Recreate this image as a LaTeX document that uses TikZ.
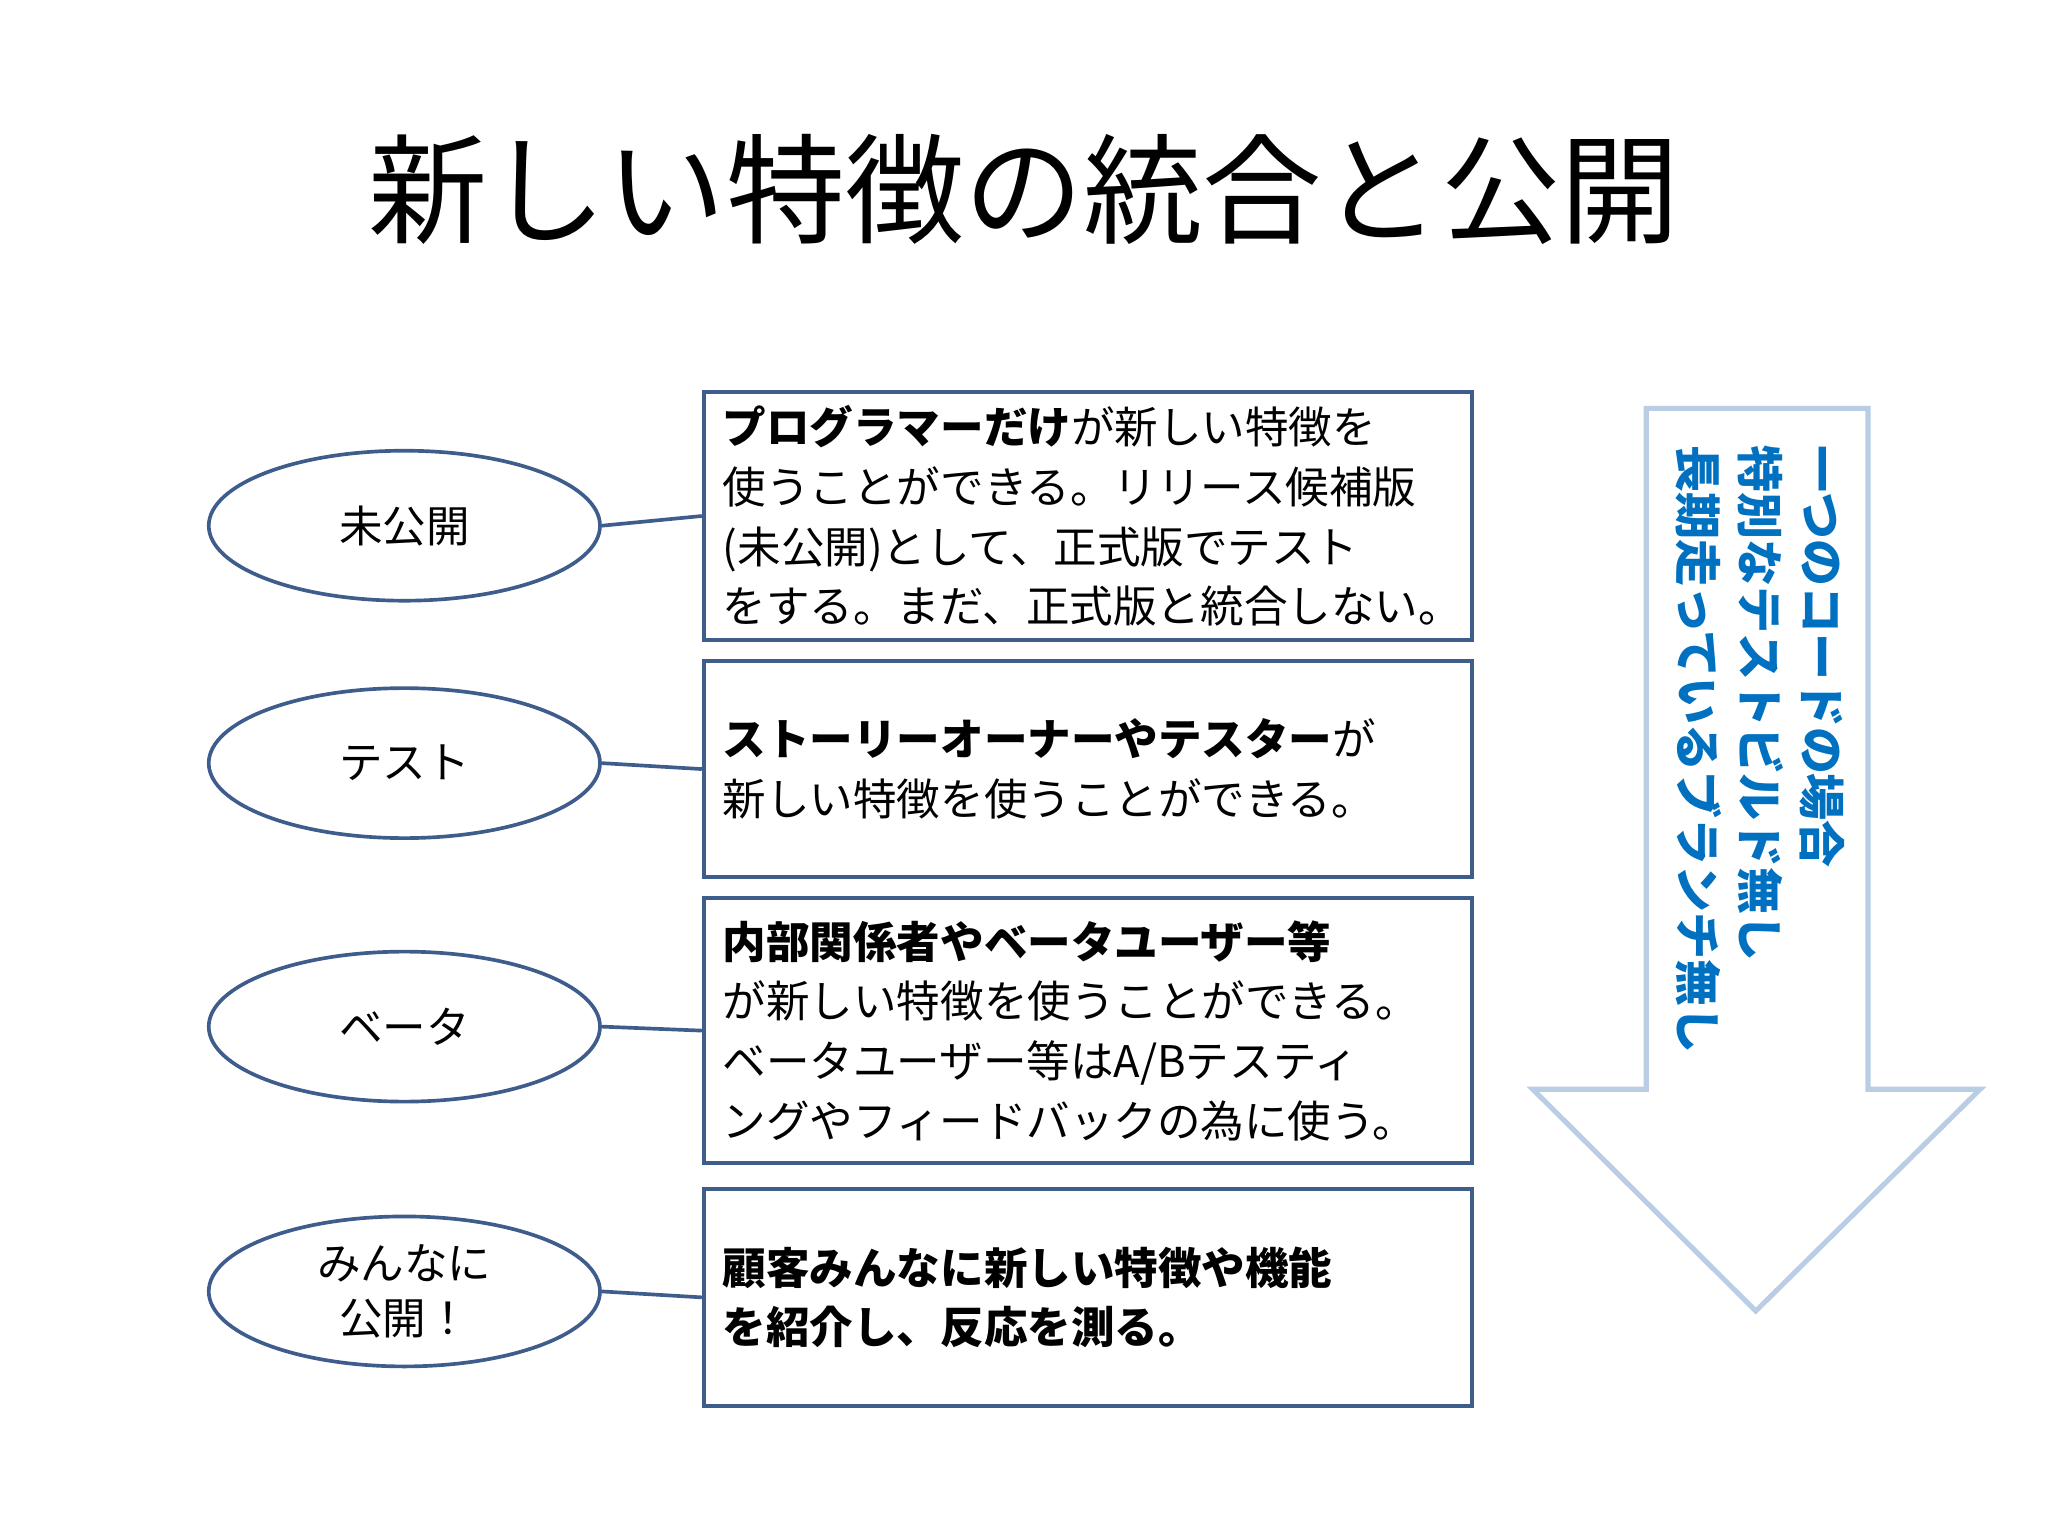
\documentclass[tikz,border=0pt]{standalone}
\usepackage{fontspec}
\setmainfont{Noto Sans CJK JP}
\usetikzlibrary{shapes.geometric}
\definecolor{edge}{RGB}{62,92,140}
\definecolor{arr}{RGB}{185,205,229}
\definecolor{vblue}{RGB}{0,112,192}
\tikzset{
 stage/.style={ellipse,draw=edge,line width=1.6pt,minimum width=6cm,minimum height=2.3cm,align=center,font=\fontsize{19}{24}\selectfont,inner sep=0pt},
 descbox/.style={draw=edge,line width=1.8pt,anchor=north west,text width=11.2cm,align=left,font=\fontsize{19}{26}\selectfont,inner xsep=0.29cm,inner ysep=0pt},
 conn/.style={draw=edge,line width=1.6pt}
}
\begin{document}
\begin{tikzpicture}[x=0.02cm,y=-0.02cm]
\useasboundingbox (0,0) rectangle (1570,1178);
\node (title) at (785,145) {\fontsize{52}{60}\selectfont 新しい特徴の統合と公開};
% arrow
\draw[draw=arr,line width=2.2pt,fill=white] (1262,313) -- (1432,313) -- (1432,835) -- (1518,835) -- (1346,1005) -- (1175,835) -- (1262,835) -- cycle;
\node[rotate=-90,align=left,text=vblue,font=\bfseries\fontsize{20.5}{27}\selectfont,anchor=north west] (vt) at (1420,335) {一つのコードの場合\\特別なテストビルド無し\\長期走っているブランチ無し};
% ellipses
\node[stage] (e1) at (310,403) {未公開};
\node[stage] (e2) at (310,585) {テスト};
\node[stage] (e3) at (310,787) {ベータ};
\node[stage] (e4) at (310,990) {みんなに\\公開！};
% boxes
\node[descbox,minimum height=3.8cm] (b1) at (538,299) {\textbf{プログラマーだけ}が新しい特徴を\\使うことができる。リリース候補版\\(未公開)として、正式版でテスト\\をする。まだ、正式版と統合しない。};
\node[descbox,minimum height=3.32cm] (b2) at (538,505) {\textbf{ストーリーオーナーやテスター}が\\新しい特徴を使うことができる。};
\node[descbox,minimum height=4.06cm] (b3) at (538,687) {\textbf{内部関係者やベータユーザー等}\\が新しい特徴を使うことができる。\\ベータユーザー等はA/Bテスティ\\ングやフィードバックの為に使う。};
\node[descbox,minimum height=3.32cm] (b4) at (538,910) {\textbf{顧客みんなに新しい特徴や機能\\を紹介し、反応を測る。}};
\draw[conn] (e1.east) -- (b1.west);
\draw[conn] (e2.east) -- (b2.west);
\draw[conn] (e3.east) -- (b3.west);
\draw[conn] (e4.east) -- (b4.west);
\end{tikzpicture}
\end{document}
